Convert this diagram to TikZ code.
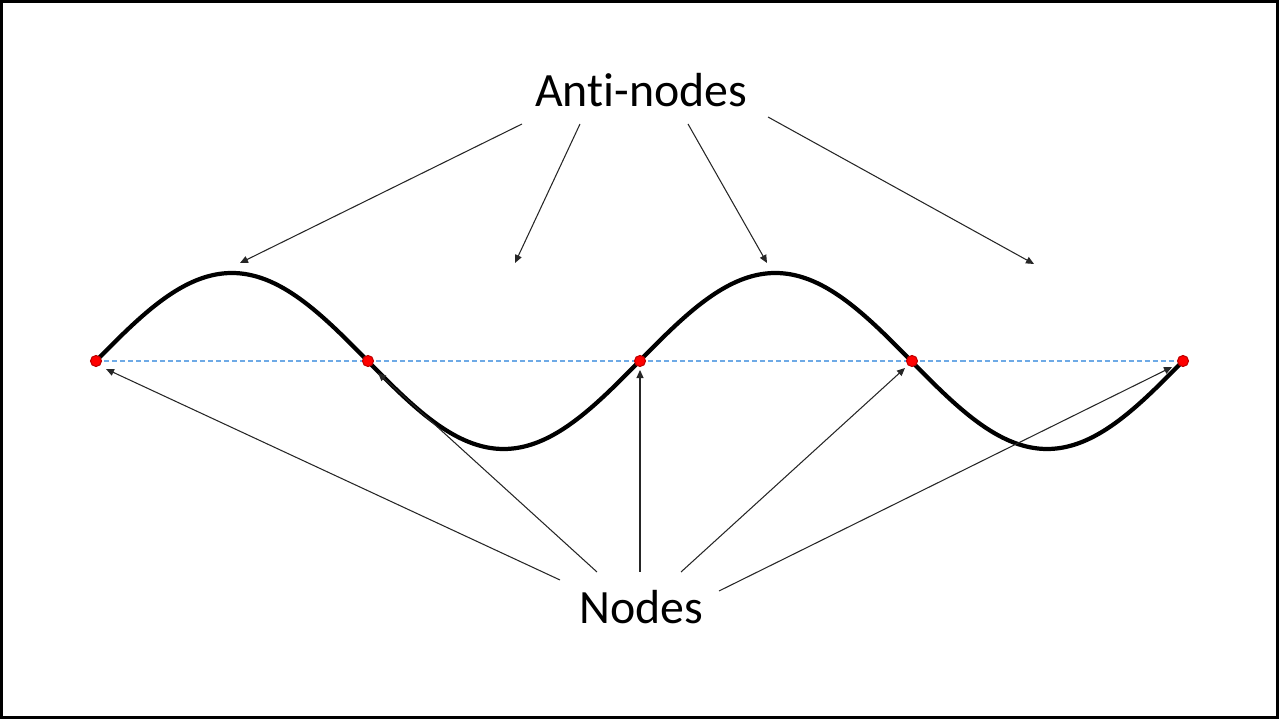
\documentclass[tikz,border=0pt]{standalone}
\usepackage{fontspec}
\setmainfont[Ligatures=NoCommon]{Carlito}
\usepackage{xcolor}
\usepackage{tikz}
\usetikzlibrary{arrows.meta,positioning,calc}
\definecolor{axisblue}{RGB}{110,170,230}
\tikzset{
	arrow/.style={-{Triangle[length=0.8mm,width=0.7mm]}, line width=0.3pt, draw=black!85},
	dot/.style={circle, fill=red, draw=red!75!black, line width=0.3pt, inner sep=0pt, minimum size=1.1mm},
	wave/.style={line width=1.2pt, line join=round},
	biglabel/.style={font=\fontsize{13.6}{16}\selectfont, inner sep=2pt}
}
\begin{document}
\begin{tikzpicture}[x=0.01cm, y=-0.01cm]
	\useasboundingbox (0,0) rectangle (1279,719);
	\draw[line width=0.45mm] (1,1) rectangle (1278,718);

	%% -- Axis line and standing wave
	\draw[axisblue, dash pattern=on 0.5mm off 0.3mm, line width=0.4pt] (96,361) -- (1183,361);
	\draw[wave] plot[domain=96:1183, samples=220, smooth]
		(\x, {361-88*sin(0.66237*(\x-96))});

	%% -- Nodes on the axis
	\node[dot] (n1) at (96,361) {};
	\node[dot] (n2) at (368,361) {};
	\node[dot] (n3) at (640,361) {};
	\node[dot] (n4) at (912,361) {};
	\node[dot] (n5) at (1183,361) {};

	%% -- Labels
	\node[biglabel] (anti) at (641,90) {Anti-nodes};
	\node[biglabel] (nodes) at (641,607) {Nodes};

	%% -- Anti-node pointers
	\coordinate (at1) at (522,124);
	\coordinate (at2) at (580,124);
	\coordinate (at3) at (688,124);
	\coordinate (at4) at (768,117);
	\coordinate (ah1) at (240,263);
	\coordinate (ah2) at (515,263);
	\coordinate (ah3) at (767,263);
	\coordinate (ah4) at (1034,264);
	\foreach \i in {1,...,4}
		\draw[arrow] (at\i) -- (ah\i);

	%% -- Node pointers
	\coordinate (nt1) at (560,580);
	\coordinate (nt2) at (597,572);
	\coordinate (nt3) at (640,572);
	\coordinate (nt4) at (681,572);
	\coordinate (nt5) at (719,591);
	\coordinate (nh1) at (106,369);
	\coordinate (nh2) at (378,373);
	\coordinate (nh3) at (640,370);
	\coordinate (nh4) at (905,368);
	\coordinate (nh5) at (1172,367);
	\foreach \i in {1,...,5}
		\draw[arrow] (nt\i) -- (nh\i);
\end{tikzpicture}
\end{document}
